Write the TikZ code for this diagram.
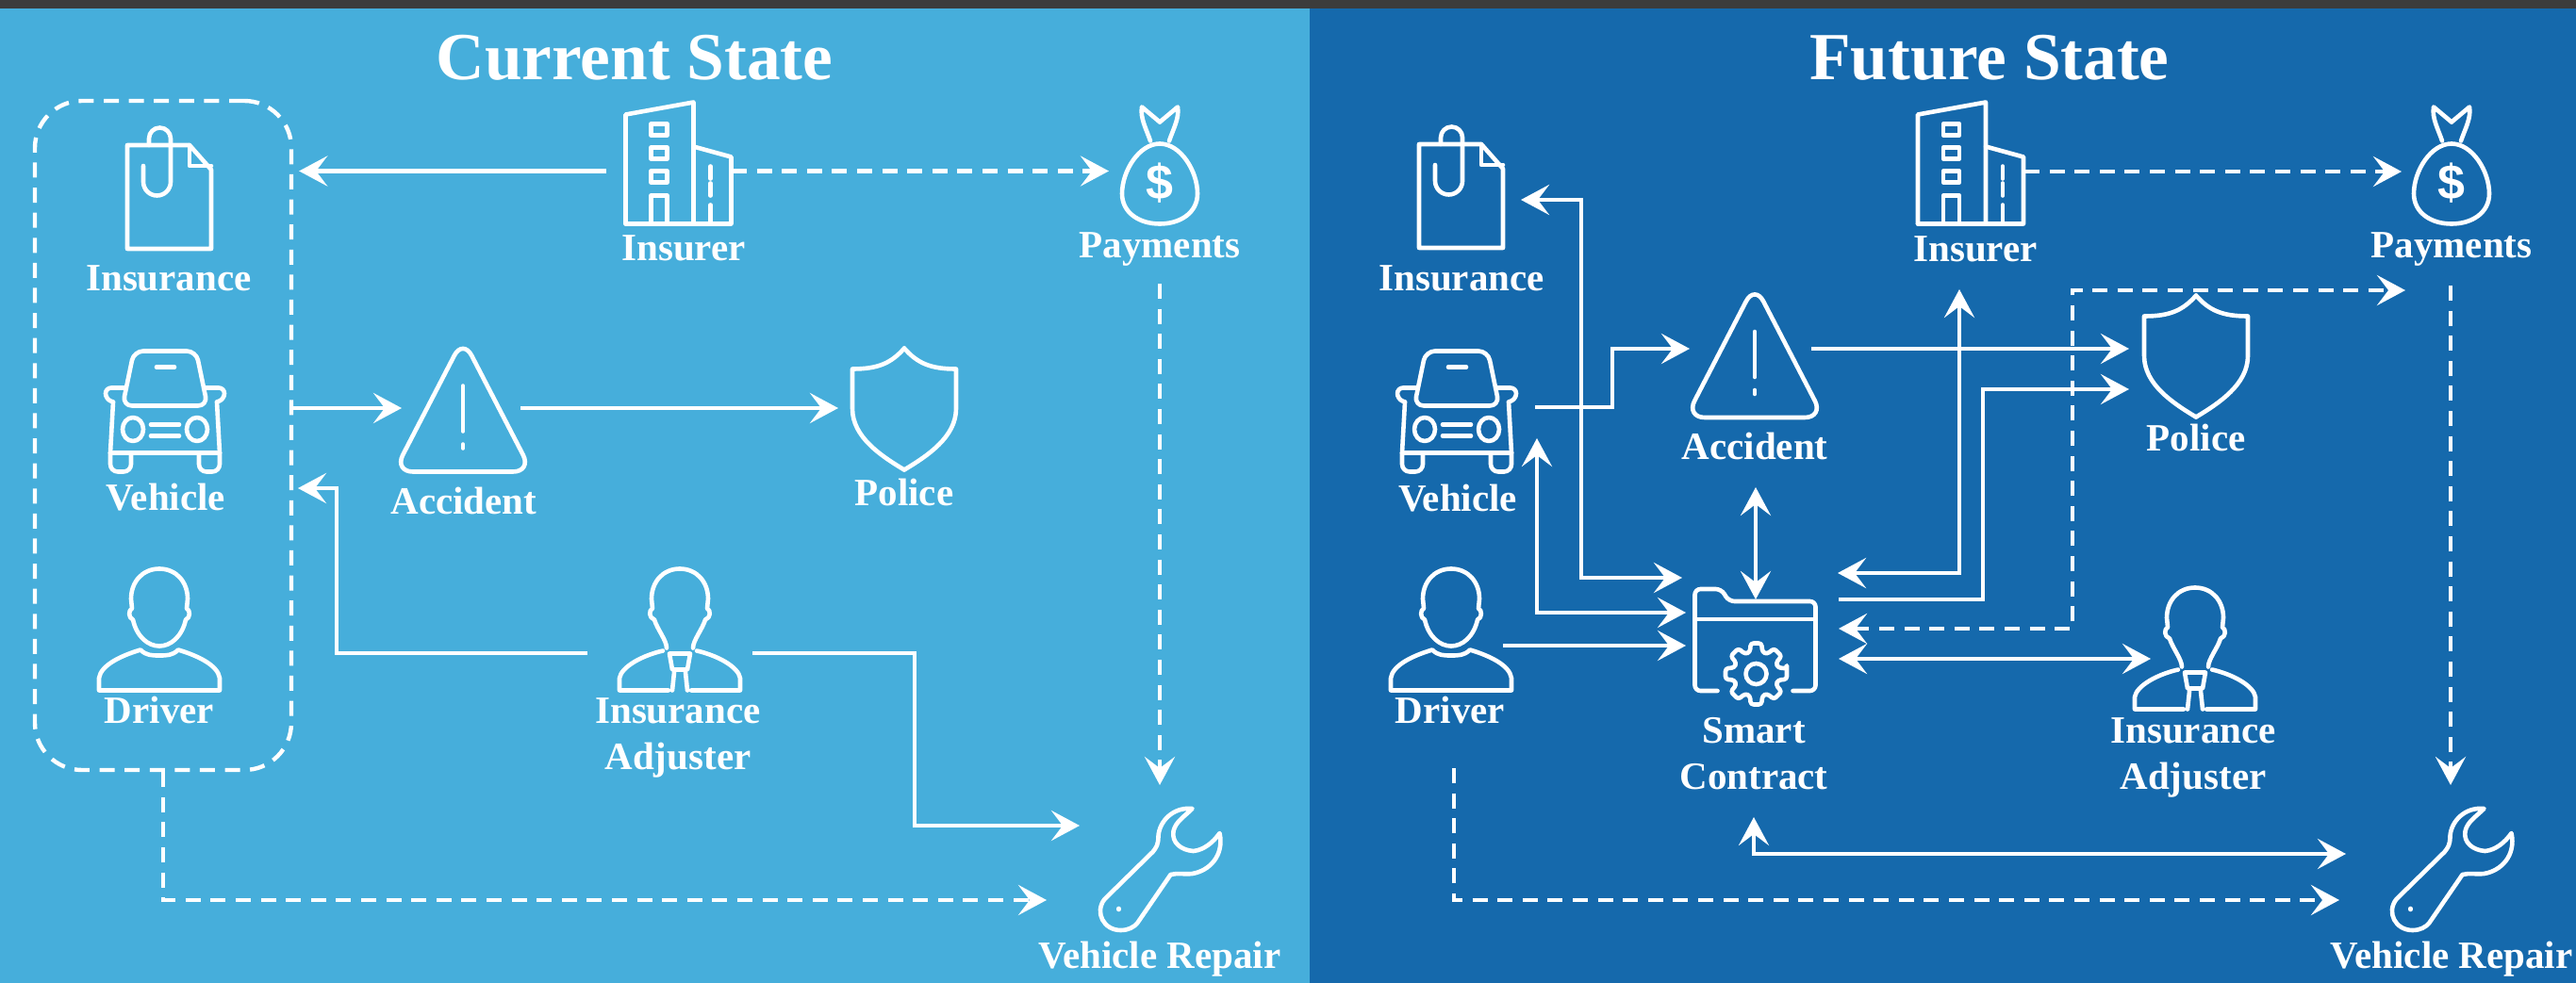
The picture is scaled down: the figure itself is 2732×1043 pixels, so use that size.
\documentclass[tikz,border=0pt]{standalone}
\usepackage{fontspec}
\setmainfont{Liberation Serif}
\newfontfamily\dollarfont{Liberation Sans}
\usetikzlibrary{arrows.meta,calc}
\definecolor{panelcurrent}{RGB}{70,174,219}
\definecolor{panelfuture}{RGB}{21,105,172}
\definecolor{bandtop}{RGB}{60,60,60}
\tikzset{
  every pic/.style={yscale=-1},
  iconline/.style={draw=white,line width=2.3pt,line join=round,line cap=round},
  flow/.style={draw=white,line width=2.3pt},
  flowdash/.style={flow,dash pattern=on 8pt off 5.3pt},
  lbl/.style={text=white,font=\bfseries\fontsize{20.5}{24.5}\selectfont,anchor=base,inner sep=0pt,align=center},
  panelhead/.style={text=white,font=\bfseries\fontsize{35.7}{40}\selectfont,anchor=base,inner sep=0pt},
  groupbox/.style={draw=white,line width=2.2pt,dash pattern=on 8pt off 5.3pt,rounded corners=25pt,minimum width=136pt,minimum height=355pt,inner sep=0pt},
  pics/clipdoc/.style={code={
    \draw[iconline] (-44,-46) -- (22,-46) -- (45,-20) -- (45,64) -- (-44,64) -- cycle;
    \draw[iconline] (22,-46) -- (22,-24) -- (45,-24);
    \draw[iconline] (-27,-24) -- (-27,-7) arc[start angle=180,end angle=0,radius=14.5] -- (2,-53) arc[start angle=0,end angle=-180,radius=11.5] -- (-21,-46);
  }},
  pics/caricon/.style={code={
    \draw[iconline,rounded corners=5pt] (-33,-63) -- (33,-63) -- (45,-5) -- (-45,-5) -- cycle;
    \draw[iconline] (-9,-46) -- (10,-46);
    \draw[iconline] (-15,15) -- (15,15) (-15,27) -- (15,27);
    \draw[iconline] (-58,45) -- (58,45);
    \draw[iconline] (-34,20) ellipse[x radius=11,y radius=12.5];
    \draw[iconline] (34,20) ellipse[x radius=11,y radius=12.5];
    \foreach \s in {-1,1} {
      \draw[iconline,xscale=\s,rounded corners=3pt] (43,-24) -- (63,-24) -- (63,-12) -- (55,-9);
      \draw[iconline,xscale=\s] (55,-9) -- (58,45);
      \draw[iconline,xscale=\s,rounded corners=4pt] (36,45) -- (36,65) -- (58,65) -- (58,45);
    }
  }},
  pics/officeicon/.style={code={
    \draw[iconline] (-56,65) -- (-56,-51) -- (16,-64) -- (16,65);
    \draw[iconline] (16,-17) -- (56,-6) -- (56,65) -- (-56,65);
    \foreach \w in {-35,-10,15} {
      \draw[iconline] (-29,\w-6) rectangle (-12,\w+6);
    }
    \draw[iconline] (-29,65) -- (-29,35) -- (-12,35) -- (-12,65);
    \draw[iconline] (34,4) -- (34,17) (34,22) -- (34,35) (34,45) -- (34,65);
  }},
  pics/warnicon/.style={code={
    \draw[iconline,rounded corners=10pt] (0,-76) -- (73,65) -- (-73,65) -- cycle;
    \draw[iconline] (0,-26) -- (0,22);
    \draw[iconline] (0,36) -- (0,40);
  }},
  pics/shieldicon/.style={code={
    \foreach \s in {-1,1} {
      \draw[iconline,xscale=\s] (0,-64) .. controls (14,-48) and (28,-42) .. (55,-42) -- (55,0) .. controls (55,30) and (25,50) .. (0,65);
    }
  }},
  pics/personicon/.style={code={
    \foreach \s in {-1,1} {
      \draw[iconline,xscale=\s] (0,-64) .. controls (18,-64) and (30,-50) .. (30,-32) -- (29,-22) .. controls (33,-20) and (33,-12) .. (28,-10) .. controls (24,8) and (12,18) .. (0,18);
      \draw[iconline,xscale=\s] (0,28) .. controls (8,28) and (14,28) .. (20,22) .. controls (40,28) and (62,38) .. (64,52) -- (64,65) -- (0,65);
    }
  }},
  pics/adjustericon/.style={code={
    \foreach \s in {-1,1} {
      \draw[iconline,xscale=\s] (0,-64) .. controls (18,-64) and (30,-50) .. (30,-32) -- (29,-22) .. controls (33,-20) and (33,-12) .. (27,-10) .. controls (24,0) and (14,12) .. (14,20);
      \draw[iconline,xscale=\s] (18,23) .. controls (40,28) and (62,40) .. (64,52) -- (64,65) -- (12,65);
      \draw[iconline,xscale=\s] (6,46) -- (8,65);
    }
    \draw[iconline] (-11,26) -- (11,26) -- (8,43) -- (-8,43) -- cycle;
  }},
  pics/moneybag/.style={code={
    \foreach \s in {-1,1} {
      \draw[iconline,xscale=\s] (0,-21) .. controls (22,-21) and (40,8) .. (40,32) .. controls (40,52) and (22,64) .. (0,64);
      \draw[iconline,xscale=\s] (10,-24) .. controls (14,-36) and (21,-48) .. (19,-60) -- (0,-44);
    }
    \node[text=white,font=\dollarfont\bfseries\fontsize{26}{26}\selectfont,inner sep=0pt] (-dollar) at (0,21) {\$};
  }},
  pics/wrenchicon/.style={code={
    \draw[iconline] (36,-64) .. controls (15,-66) and (1,-50) .. (0,-35) .. controls (0,-26) and (-2,-23) .. (-6,-18) -- (-57,32) .. controls (-68,46) and (-58,65) .. (-40,65) .. controls (-32,65) and (-26,62) .. (-22,57) -- (13,6) .. controls (20,4) and (28,6) .. (36,5) .. controls (54,2) and (70,-14) .. (65,-38) .. controls (58,-28) and (48,-20) .. (37,-19) .. controls (24,-20) and (14,-28) .. (16,-40) .. controls (18,-50) and (28,-56) .. (36,-64) -- cycle;
    \draw[iconline] (-42,42) -- (-42,43);
  }},
  pics/foldericon/.style={code={
    \draw[iconline,rounded corners=3pt] (-40,55) -- (-64,55) -- (-64,-53) -- (-36,-53) -- (-28,-40) -- (64,-40) -- (64,55) -- (40,55);
    \draw[iconline] (-64,-21) -- (64,-21);
    \draw[iconline,rounded corners=1.5pt] ($(1,37)+(-10:33)$) \foreach \a in {0,45,...,315} { -- ($(1,37)+(\a+10:33)$) -- ($(1,37)+(\a+16:24)$) -- ($(1,37)+(\a+29:24)$) -- ($(1,37)+(\a+35:33)$) } -- cycle;
    \draw[iconline] (1,37) circle[radius=11];
  }}
}
\begin{document}
\begin{tikzpicture}[x=0.5pt,y=0.5pt,yscale=-1,xscale=1,>={Stealth[length=15pt,width=16pt,inset=6pt]}]
\useasboundingbox (0,0) rectangle (2732,1043);

%Panels
\fill[panelcurrent] (0,0) rectangle (1389,1043);
\fill[panelfuture] (1389,0) rectangle (2732,1043);
\fill[bandtop] (0,0) rectangle (2732,9);

% Text Node
\node[panelhead] (titleCurrent) at (673,85) {Current State};
\node[panelhead] (titleFuture) at (2110,85) {Future State};

%Current state icons
\pic at (179,200) {clipdoc};
\pic at (175,435.5) {caricon};
\pic at (169,667.5) {personicon};
\pic at (719.5,172.5) {officeicon};
\pic at (491,435.5) {warnicon};
\pic at (959,433.5) {shieldicon};
\pic at (721,667.5) {adjustericon};
\pic (bagL) at (1230,173.5) {moneybag};
\pic at (1228.5,922) {wrenchicon};

% Text Node
\node[lbl] (insuranceL) at (179,309) {Insurance};
\node[lbl] (vehicleL) at (176,541) {Vehicle};
\node[lbl] (driverL) at (169,767) {Driver};
\node[lbl] (insurerL) at (725,277) {Insurer};
\node[lbl] (accidentL) at (492,545) {Accident};
\node[lbl] (policeL) at (959,536) {Police};
\node[lbl] (paymentsL) at (1230,274) {Payments};
\node[lbl] (adjusterL) at (719,816) {Insurance\\Adjuster};
\node[lbl] (repairL) at (1230,1027) {Vehicle Repair};

%Dashed group
\node[groupbox] (groupL) at (173,462) {};

%Current state connector ends
\coordinate (insurerWL) at (643,181.5);
\coordinate (insurerEL) at (776,181.5);
\coordinate (payWL) at (1176,181.5);
\coordinate (crashWL) at (426,433);
\coordinate (crashEL) at (552,433);
\coordinate (policeWL) at (889,433);
\coordinate (adjWL) at (623,693);
\coordinate (bendVL) at (357,518);
\coordinate (carEL) at (316,518);
\coordinate (adjEL) at (798,693);
\coordinate (bendRL) at (970,876);
\coordinate (repairWL) at (1145,876);
\coordinate (repairSL) at (1110,955);
\coordinate (paySL) at (1230,301);
\coordinate (repairNL) at (1230,833);

%Straight Lines
\draw[flow,->,shorten >=3pt] (insurerWL) -- (groupL.east |- insurerWL);
\draw[flowdash,->] (insurerEL) -- (payWL);
\draw[flow,->] (groupL.east |- crashWL) -- (crashWL);
\draw[flow,->] (crashEL) -- (policeWL);
\draw[flow,->] (adjWL) -| (bendVL) -- (carEL);
\draw[flow,->] (adjEL) -| (bendRL) -- (repairWL);
\draw[flowdash,->] (groupL.south) |- (repairSL);
\draw[flowdash,->] (paySL) -- (repairNL);

%Future state icons
\pic at (1549,199) {clipdoc};
\pic at (1545,435.5) {caricon};
\pic at (1539,667.5) {personicon};
\pic at (2090,172.5) {officeicon};
\pic at (1861,378) {warnicon};
\pic at (2329,377.5) {shieldicon};
\pic at (2328,687.5) {adjustericon};
\pic (bagR) at (2600,173.5) {moneybag};
\pic at (2598.5,922) {wrenchicon};
\pic at (1861.5,678) {foldericon};

% Text Node
\node[lbl] (insuranceR) at (1550,309) {Insurance};
\node[lbl] (vehicleR) at (1546,542) {Vehicle};
\node[lbl] (driverR) at (1538,767) {Driver};
\node[lbl] (insurerR) at (2095,278) {Insurer};
\node[lbl] (accidentR) at (1861,487) {Accident};
\node[lbl] (policeR) at (2329,478) {Police};
\node[lbl] (paymentsR) at (2600,274) {Payments};
\node[lbl] (contractR) at (1860,837) {Smart\\Contract};
\node[lbl] (adjusterR) at (2326,837) {Insurance\\Adjuster};
\node[lbl] (repairR) at (2600,1027) {Vehicle Repair};

%Future state connector ends
\coordinate (carER) at (1628,432);
\coordinate (bendCR) at (1710,370);
\coordinate (crashWR) at (1792,370);
\coordinate (crashER) at (1921,370);
\coordinate (policeUR) at (2258,370);
\coordinate (docER) at (1613,212);
\coordinate (bendDR) at (1677,613);
\coordinate (folderUR) at (1784,613);
\coordinate (carSR) at (1630,465);
\coordinate (folderMR) at (1788,650);
\coordinate (driverER) at (1594,685);
\coordinate (folderLR) at (1788,685);
\coordinate (crashSR) at (1862,517);
\coordinate (folderNR) at (1862,636);
\coordinate (folderER) at (1949,608);
\coordinate (insurerSR) at (2078,307);
\coordinate (folderFR) at (1950,636);
\coordinate (bendPR) at (2103,413);
\coordinate (policeLR) at (2258,413);
\coordinate (folderDR) at (1950,667);
\coordinate (bendPayR) at (2198,308);
\coordinate (payLR) at (2551,308);
\coordinate (folderAR) at (1950,699);
\coordinate (adjWR) at (2281,699);
\coordinate (contractSR) at (1860,867);
\coordinate (bendKR) at (1860,906);
\coordinate (repairUR) at (2488,906);
\coordinate (driverSR) at (1542,815);
\coordinate (repairLR) at (2481,955);
\coordinate (insurerER) at (2147,182);
\coordinate (payWR) at (2547,182);
\coordinate (paySR) at (2599,303);
\coordinate (repairNR) at (2599,833);

%Straight Lines
\draw[flow,->] (carER) -| (bendCR) |- (crashWR);
\draw[flow,->] (crashER) -- (policeUR);
\draw[flow,<->] (docER) -| (bendDR) |- (folderUR);
\draw[flow,<->] (carSR) |- (folderMR);
\draw[flow,->] (driverER) -- (folderLR);
\draw[flow,<->] (crashSR) -- (folderNR);
\draw[flow,<->] (folderER) -| (insurerSR);
\draw[flow,->] (folderFR) -| (bendPR) |- (policeLR);
\draw[flowdash,<->] (folderDR) -| (bendPayR) -- (payLR);
\draw[flow,<->] (folderAR) -- (adjWR);
\draw[flow,<->] (contractSR) -- (bendKR) -- (repairUR);
\draw[flowdash,->] (driverSR) |- (repairLR);
\draw[flowdash,->] (insurerER) -- (payWR);
\draw[flowdash,->] (paySR) -- (repairNR);
\end{tikzpicture}
\end{document}
